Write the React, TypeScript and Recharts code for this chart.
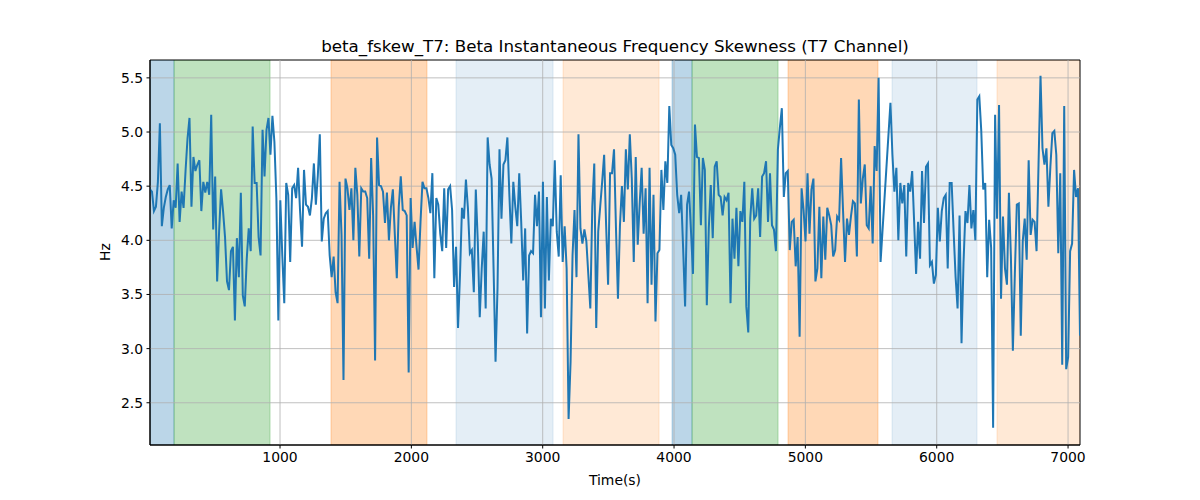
import React from 'react';
import { LineChart, Line, XAxis, YAxis, ReferenceArea, ReferenceLine } from 'recharts';

const TITLE = 'beta_fskew_T7: Beta Instantaneous Frequency Skewness (T7 Channel)';
const X_LABEL = 'Time(s)';
const Y_LABEL = 'Hz';

const T_START = 10;
const T_END = 7091;
const Y_MIN = 2.11;
const Y_MAX = 5.665;

const SEG1 = [
  4.47, 4.45, 4.27, 4.31, 4.54, 5.08, 4.13, 4.30, 4.40, 4.47,
  4.51, 4.11, 4.37, 4.30, 4.71, 4.17, 4.45, 4.30, 4.64, 4.94,
  5.13, 4.31, 4.77, 4.64, 4.70, 4.74, 4.27, 4.54, 4.44, 4.54,
  4.42, 5.16, 4.10, 4.59, 3.62, 4.08, 4.47, 4.27, 4.03, 3.62,
  3.54, 3.90, 3.94, 3.26, 4.02, 3.66, 4.44, 3.49, 3.39, 3.83,
  4.11, 3.90, 5.05, 4.53, 4.53, 4.03, 3.86, 5.02, 4.59, 5.02,
  5.13, 4.79, 5.15, 4.91, 4.39, 3.26, 4.37, 3.86, 3.42, 4.53,
  4.42, 3.80, 4.48, 4.51, 4.39, 4.67, 4.27, 3.94, 4.65,
];
const SEG2 = [
  4.33, 4.31, 4.23, 4.39, 4.71, 4.33, 4.60, 4.98, 3.99, 4.20,
  4.25, 4.27, 3.86, 3.66, 3.85, 3.52, 3.42, 4.54, 4.05, 2.71,
  4.57, 4.48, 4.28, 4.48, 4.00, 4.67, 4.42, 3.85, 4.48, 4.45,
  4.45, 4.39, 3.83, 4.76, 4.23, 2.89, 4.95, 4.51, 4.50, 4.45,
  4.16, 4.44, 4.00, 4.30, 4.47, 4.05, 3.65, 4.31, 4.59, 4.28,
  4.27, 4.23, 2.78, 4.39, 3.93, 4.17, 3.94, 3.73, 4.17, 4.54,
  4.48, 4.48, 4.39, 4.25, 4.62, 3.65, 4.39, 4.33, 4.06, 3.90,
  4.48, 3.93, 4.47, 4.50, 4.28, 3.57, 3.94, 3.19,
];
const SEG3 = [
  3.68, 4.30, 4.20, 4.56, 4.30, 3.88, 3.91, 3.52, 4.47, 3.99,
  3.29, 3.74, 4.08, 3.37, 4.95, 4.70, 4.57, 3.74, 2.88, 3.56,
  4.84, 4.20, 4.70, 4.74, 4.95, 4.42, 3.97, 4.54, 4.31, 4.13,
  4.62, 4.17, 3.63, 4.11, 3.14, 3.86, 3.90, 3.88, 4.42, 4.13,
  4.45, 3.29, 4.54, 3.37, 4.40, 3.63, 4.20, 4.13, 4.74, 4.08,
  3.85, 4.60, 3.80, 4.13, 3.74, 2.35, 2.88, 3.86, 4.28, 3.66,
  4.98, 4.11, 3.97, 4.10, 3.99, 3.68, 3.37, 4.31, 4.71, 3.19,
  4.08, 4.31, 4.54, 4.79, 4.14, 3.59, 4.62, 4.62, 4.84,
];
const SEG4 = [
  4.11, 3.46, 4.13, 4.50, 4.17, 4.84, 4.47, 4.98, 4.57, 3.80,
  4.77, 3.96, 4.34, 4.67, 4.06, 4.48, 3.42, 4.67, 3.59, 4.42,
  3.25, 3.88, 3.91, 4.65, 4.28, 4.73, 4.53, 5.24, 4.88, 4.85,
  4.79, 4.42, 4.25, 4.42, 3.93, 3.39, 4.33, 4.45, 4.08, 3.69,
  5.07, 4.77, 4.76, 4.14, 4.76, 4.65, 3.40, 4.11, 4.51, 4.02,
  4.68, 4.73, 4.42, 4.40, 4.23, 4.40, 4.37, 4.44, 3.42, 4.20,
  3.83, 4.30, 3.76, 4.27, 4.17, 4.54, 3.39, 3.15, 4.20, 4.48,
  4.20, 4.23, 4.48, 4.03, 4.59, 4.62, 4.73, 4.17,
];
const SEG5 = [
  4.62, 4.14, 4.10, 3.90, 4.84, 5.04, 5.22, 4.40, 4.62, 4.64,
  3.91, 4.17, 4.19, 3.76, 4.03, 3.11, 4.48, 4.28, 3.99, 4.62,
  4.06, 4.47, 4.57, 3.62, 3.74, 4.31, 3.65, 4.22, 3.82, 4.30,
  4.23, 4.14, 3.85, 3.91, 4.22, 4.19, 4.76, 4.27, 3.80, 4.20,
  4.05, 4.22, 4.36, 4.34, 3.85, 5.30, 4.34, 4.57, 4.70, 4.14,
  4.11, 4.50, 3.97, 4.87, 4.64, 5.50, 3.80, null, null, null,
  null, 5.27, 4.79, 4.45, 4.67, 4.00, 4.53, 4.34, 4.51, 3.85,
  4.53, 4.45, 4.64, 4.17, 3.69, 4.17, 3.83, 4.64,
];
const SEG6 = [
  4.16, 4.68, 4.71, 3.77, 3.80, 3.60, 3.68, 4.30, 3.99, 4.27,
  4.39, 4.42, 3.74, 4.53, 4.53, 4.08, 3.66, 3.37, 4.23, 3.05,
  3.79, 4.27, 4.16, 4.51, 4.11, 4.28, 4.00, 5.30, 5.33, 5.01,
  4.47, 4.53, 3.66, 4.19, 3.93, 2.27, 5.16, 4.20, 5.25, 3.46,
  4.22, 3.74, 3.59, 4.44, 3.85, 2.98, 3.69, 4.33, 4.34, 3.12,
  3.99, 4.20, 3.82, 4.74, 4.05, 4.19, 4.17, 3.90, 4.70, 5.52,
  4.85, 4.70, 4.85, 4.31, 4.68, 4.99, 5.01, 4.79, 3.88, 4.62,
  2.85, 5.24, 2.81, 2.92, 3.90, 3.97, 4.65, 4.40, 4.48, 3.12,
];

const VALUES: (number | null)[] = [...SEG1, ...SEG2, ...SEG3, ...SEG4, ...SEG5, ...SEG6];

const X_TICKS = [1000, 2000, 3000, 4000, 5000, 6000, 7000];
const Y_TICKS = [2.5, 3.0, 3.5, 4.0, 4.5, 5.0, 5.5];

const SPAN_STARTS = [10, 193, 1388, 2340, 3155, 3985, 4137, 4868, 5660, 6459];
const SPAN_ENDS = [193, 924, 2119, 3079, 3886, 4137, 4792, 5553, 6307, 7091];
const SPAN_COLORS = ['#1f77b4', '#2ca02c', '#ff7f0e', '#1f77b4', '#ff7f0e', '#1f77b4', '#2ca02c', '#ff7f0e', '#1f77b4', '#ff7f0e'];
const SPAN_ALPHAS = [0.3, 0.3, 0.3, 0.12, 0.17, 0.3, 0.3, 0.3, 0.12, 0.17];

const STEP = (T_END - T_START) / (VALUES.length - 1);
const DATA = VALUES.map((v, i) => ({ t: T_START + i * STEP, v }));

const FONT = '"DejaVu Sans", sans-serif';
const TICK_STYLE = { fill: '#000', fontSize: 13.9, fontFamily: FONT };

export default function App() {
  return (
    <div style={{ position: 'absolute', left: 0, top: 0, width: 1200, height: 500, background: '#fff', fontFamily: FONT }}>
      <LineChart width={1200} height={500} data={DATA} margin={{ top: 60, right: 120, bottom: 25, left: 100 }}>
        <XAxis
          dataKey="t"
          type="number"
          domain={[T_START, T_END]}
          ticks={X_TICKS}
          allowDataOverflow
          height={30}
          tickSize={3.5}
          tickMargin={3.5}
          tick={TICK_STYLE}
          stroke="#000"
          tickLine={{ stroke: '#000' }}
          axisLine={{ stroke: '#000' }}
        />
        <YAxis
          type="number"
          domain={[Y_MIN, Y_MAX]}
          ticks={Y_TICKS}
          allowDataOverflow
          width={50}
          tickSize={3.5}
          tickMargin={3.5}
          tick={TICK_STYLE}
          tickFormatter={(v: number) => v.toFixed(1)}
          stroke="#000"
          tickLine={{ stroke: '#000' }}
          axisLine={{ stroke: '#000' }}
        />
        {SPAN_STARTS.map((s, i) => (
          <ReferenceArea
            key={'span' + i}
            x1={s}
            x2={SPAN_ENDS[i]}
            y1={Y_MIN}
            y2={Y_MAX}
            fill={SPAN_COLORS[i]}
            fillOpacity={SPAN_ALPHAS[i]}
            stroke={SPAN_COLORS[i]}
            strokeOpacity={SPAN_ALPHAS[i]}
            strokeWidth={1}
            ifOverflow="hidden"
          />
        ))}
        {X_TICKS.map((x) => (
          <ReferenceLine key={'gx' + x} x={x} stroke="#b0b0b0" strokeWidth={0.8} />
        ))}
        {Y_TICKS.map((y) => (
          <ReferenceLine key={'gy' + y} y={y} stroke="#b0b0b0" strokeWidth={0.8} />
        ))}
        <Line
          type="linear"
          dataKey="v"
          stroke="#1f77b4"
          strokeWidth={2}
          dot={false}
          activeDot={false}
          connectNulls
          isAnimationActive={false}
        />
        <ReferenceArea x1={T_START} x2={T_END} y1={Y_MIN} y2={Y_MAX} fill="none" stroke="#000" strokeWidth={1} />
      </LineChart>
      <div style={{ position: 'absolute', left: 0, width: 1230, top: 36, textAlign: 'center', fontSize: 16.7, color: '#000', lineHeight: '20px' }}>
        {TITLE}
      </div>
      <div style={{ position: 'absolute', left: 0, width: 1230, top: 472, textAlign: 'center', fontSize: 13.9, color: '#000', lineHeight: '17px' }}>
        {X_LABEL}
      </div>
      <div
        style={{
          position: 'absolute',
          left: 105,
          top: 252,
          transform: 'translate(-50%, -50%) rotate(-90deg)',
          fontSize: 13.9,
          color: '#000',
          lineHeight: '17px',
          whiteSpace: 'nowrap',
        }}
      >
        {Y_LABEL}
      </div>
    </div>
  );
}
